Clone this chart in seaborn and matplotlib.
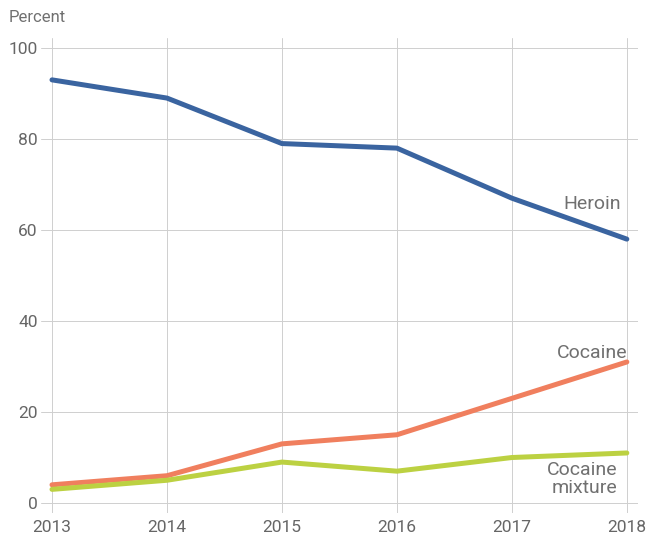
import numpy as np
import pandas as pd
import matplotlib
matplotlib.use("Agg")
import matplotlib.pyplot as plt
import seaborn as sns

years = [2013, 2014, 2015, 2016, 2017, 2018]
heroin = [93, 89, 79, 78, 67, 58]
cocaine = [4, 6, 13, 15, 23, 31]
mixture = [3, 5, 9, 7, 10, 11]
yticks = [0, 20, 40, 60, 80, 100]

df = pd.DataFrame({"year": years * 3,
                   "pct": heroin + cocaine + mixture,
                   "drug": ["Heroin"] * 6 + ["Cocaine"] * 6 + ["Cocaine mixture"] * 6})

sns.set_style("white")
plt.rcParams['font.family'] = ['Roboto', 'DejaVu Sans']

fig = plt.figure(figsize=(6.47, 5.43), dpi=100)
ax = fig.add_axes([0.0626, 0.0552, 0.924, 0.8748])

palette = {"Heroin": "#3a64a0", "Cocaine": "#f07f5e", "Cocaine mixture": "#bcd142"}
sns.lineplot(data=df, x="year", y="pct", hue="drug", palette=palette,
             linewidth=3.6, legend=False, ax=ax)

ax.set_xlim(2012.9, 2018.1)
ax.set_ylim(-2.2, 102.2)
ax.set_xticks(years)
ax.set_yticks(yticks)
ax.grid(True, color="#cfcfcf", linewidth=0.7)
ax.set_axisbelow(True)
for s in ax.spines.values():
    s.set_visible(False)
ax.tick_params(length=0, labelsize=12.5, colors="#666666", pad=5)
ax.tick_params(axis="y", pad=2)
ax.set_xlabel("")
ax.set_ylabel("")

lc = "#707070"
ax.text(2017.95, 65.8, "Heroin", ha="right", va="center", fontsize=14, color=lc)
ax.text(2018.01, 33.0, "Cocaine", ha="right", va="center", fontsize=14, color=lc)
ax.text(2017.92, 5.3, "Cocaine\nmixture", ha="right", va="center", fontsize=14,
        color=lc, linespacing=0.95)

fig.text(0.013, 0.967, "Percent", ha="left", va="center", fontsize=12, color=lc)

fig.savefig("out.png", dpi=100)
